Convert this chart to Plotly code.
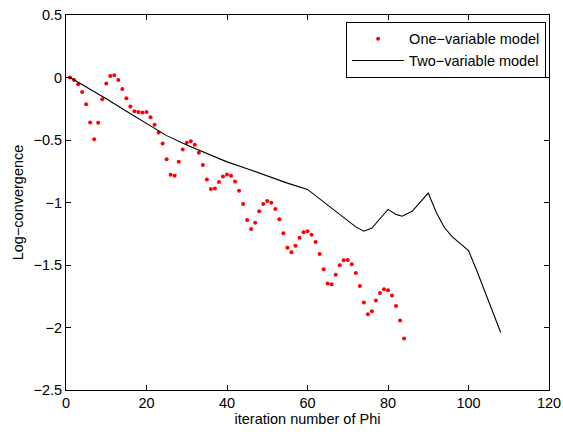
import plotly.graph_objects as go

# One-variable model (dots), x = 1..84
one_x = list(range(1, 85))
one_y = [0.00, -0.019, -0.054, -0.115, -0.213, -0.36, -0.493, -0.362, -0.173, -0.048,
         0.013, 0.018, -0.019, -0.091, -0.165, -0.232, -0.269, -0.275, -0.28, -0.275,
         -0.317, -0.378, -0.44, -0.527, -0.653, -0.778, -0.786, -0.674, -0.575, -0.522,
         -0.509, -0.538, -0.602, -0.70, -0.815, -0.892, -0.887, -0.835, -0.791, -0.775,
         -0.786, -0.831, -0.906, -1.012, -1.14, -1.212, -1.161, -1.07, -1.012, -0.988,
         -1.001, -1.052, -1.134, -1.246, -1.361, -1.398, -1.345, -1.281, -1.238, -1.23,
         -1.257, -1.315, -1.411, -1.534, -1.648, -1.653, -1.577, -1.502, -1.462, -1.459,
         -1.494, -1.563, -1.667, -1.80, -1.893, -1.869, -1.784, -1.723, -1.693, -1.701,
         -1.744, -1.827, -1.944, -2.088]

# Two-variable model (line)
two_x = [1, 5, 10, 15, 20, 25, 30, 35, 40, 45, 50, 55, 60, 63, 66, 69, 72, 74, 76, 78,
         80, 82, 83.5, 86, 88, 90, 92, 94, 96, 98, 100, 102, 104, 106, 108]
two_y = [0.0, -0.075, -0.17, -0.27, -0.37, -0.465, -0.54, -0.61, -0.675, -0.73, -0.79,
         -0.845, -0.895, -0.97, -1.05, -1.12, -1.195, -1.23, -1.205, -1.13, -1.055,
         -1.095, -1.11, -1.07, -1.0, -0.925, -1.08, -1.2, -1.275, -1.33, -1.385, -1.54,
         -1.71, -1.87, -2.04]

x_ticks = [0, 20, 40, 60, 80, 100, 120]
y_ticks = [-2.5, -2, -1.5, -1, -0.5, 0, 0.5]
y_tick_text = ["\u22122.5", "\u22122", "\u22121.5", "\u22121", "\u22120.5", "0", "0.5"]

FONT = "Liberation Sans, Arial, sans-serif"
FS = 14.5

fig = go.Figure()
fig.add_trace(go.Scatter(x=one_x, y=one_y, mode="markers", name="One\u2212variable model",
                         marker=dict(color="red", size=4, symbol="circle", line=dict(width=0))))
fig.add_trace(go.Scatter(x=two_x, y=two_y, mode="lines", name="Two\u2212variable model",
                         line=dict(color="black", width=1.1)))

axis_common = dict(showline=True, linecolor="black", linewidth=1, mirror="ticks",
                   ticks="inside", ticklen=5, tickcolor="black", showgrid=False,
                   zeroline=False, automargin=False,
                   tickfont=dict(size=FS, color="black", family=FONT))

fig.update_xaxes(range=[0, 120], tickvals=x_ticks, ticktext=[str(v) for v in x_ticks],
                 title=dict(text="iteration number of Phi", font=dict(size=FS, family=FONT, color="black"), standoff=0),
                 **axis_common)
fig.update_yaxes(range=[-2.5, 0.5], tickvals=y_ticks, ticktext=y_tick_text,
                 title=dict(text="Log\u2212convergence", font=dict(size=FS, family=FONT, color="black"), standoff=6),
                 **axis_common)

fig.update_layout(
    width=563, height=434,
    margin=dict(l=66, r=14, t=15, b=44),
    paper_bgcolor="white", plot_bgcolor="white",
    font=dict(family=FONT, color="black"),
    legend=dict(x=0.994, y=0.982, xanchor="right", yanchor="top",
                bordercolor="black", borderwidth=1, bgcolor="white",
                font=dict(size=FS, family=FONT, color="black"),
                tracegroupgap=0, itemwidth=52),
    showlegend=True,
)

fig.write_html("out.html", config={"displayModeBar": False},
               post_script="document.body.style.margin='0';")
